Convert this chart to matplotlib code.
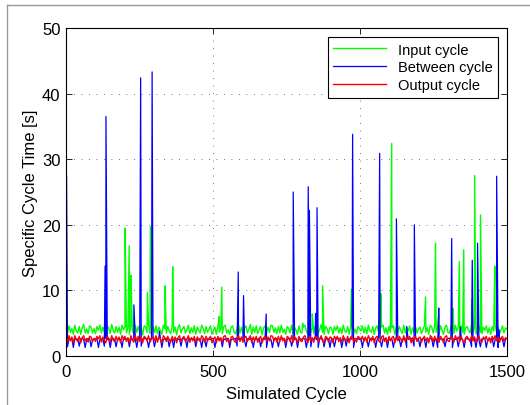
import numpy as np
import matplotlib.pyplot as plt
from matplotlib.lines import Line2D

plt.rcParams['font.family'] = ['Liberation Sans', 'DejaVu Sans']
plt.rcParams['path.simplify'] = False

# baseline samples (evenly spread over cycles 0..1500), read/estimated from the band
green_base = [
    4.4, 3.4, 4.6, 3.6, 4.2, 3.3, 4.7, 3.8, 3.5, 4.5, 3.3, 4.3, 4.8, 3.5, 4.1, 3.4, 4.6, 4.4, 3.5, 4.2,
    3.4, 4.5, 3.9, 4.7, 3.5, 4.4, 3.7, 3.3, 4.6, 4.2, 3.4, 4.8, 3.9, 3.5, 4.5, 3.6, 4.4, 3.3, 4.7, 4.0,
    4.5, 3.5, 4.3, 3.3, 4.6, 3.8, 3.4, 4.7, 3.6, 4.5, 3.5, 4.3, 3.2, 4.6, 4.4, 3.6, 4.8, 3.4, 4.0, 4.5,
    3.6, 4.6, 3.4, 4.4, 3.9, 3.3, 4.7, 4.2, 3.5, 4.5, 3.8, 3.4, 4.6, 3.6, 4.4, 3.2, 4.3, 4.8, 3.5, 4.1,
    4.5, 3.5, 4.0, 4.7, 3.4, 4.3, 3.6, 4.6, 3.3, 4.4, 3.9, 3.5, 4.7, 4.2, 3.4, 4.5, 3.6, 4.1, 4.6, 3.3,
    3.9, 4.4, 3.3, 4.6, 3.6, 4.3, 3.4, 4.5, 4.7, 3.5, 4.0, 3.3, 4.4, 4.6, 3.6, 3.4, 4.3, 4.7, 3.5, 4.4,
    3.4, 4.3, 4.6, 3.5, 4.1, 4.8, 3.3, 4.4, 3.6, 4.6, 3.4, 4.0, 4.5, 3.2, 4.3, 4.6, 3.5, 4.4, 3.6, 4.7,
    4.6, 3.6, 4.3, 3.4, 4.5, 3.5, 4.7, 3.6, 4.1, 3.3, 4.5, 4.2, 3.5, 4.7, 3.4, 4.4, 3.9, 3.3, 4.6, 3.6,
    3.5, 4.4, 4.7, 3.8, 3.3, 4.5, 3.6, 4.3, 3.4, 4.6, 4.4, 3.5, 4.0, 4.8, 3.6, 3.3, 4.5, 4.2, 3.4, 4.4,
    4.3, 3.3, 4.5, 3.9, 4.6, 3.5, 4.3, 3.4, 4.7, 3.8, 3.6, 4.5, 3.3, 4.4, 4.6, 3.5, 4.1, 3.4, 4.5, 4.2,
    3.8, 4.6, 3.5, 4.4, 3.4, 4.7, 3.9, 3.6, 4.5, 3.3, 4.3, 4.6, 3.6, 3.4, 4.4, 4.7, 3.5, 4.3, 3.3, 4.5,
    3.6, 4.3, 4.6, 3.3, 4.4, 3.6, 4.5, 3.9, 3.4, 4.7, 3.5, 4.4, 3.8, 4.6, 3.3, 4.3, 3.6, 4.5, 3.5, 4.1,
    4.4, 3.4, 4.0, 4.6, 3.6, 4.3, 3.3, 4.7, 4.4, 3.5, 4.5, 3.6, 4.3, 3.4, 4.6, 3.9, 3.3, 4.4, 4.7, 3.6,
    3.5, 4.5, 4.3, 3.4, 4.7, 3.8, 4.4, 3.5, 4.6, 3.6, 3.3, 4.3, 4.5, 3.9, 3.5, 4.8, 3.6, 4.4, 3.4, 4.3,
    4.5, 3.6, 3.4, 4.4, 3.9, 4.6, 3.5, 4.3, 3.3, 4.5, 3.8, 4.7, 3.6, 4.4, 3.4, 4.0, 4.6, 3.5, 4.3, 4.1,
]
blue_base = [
    2.7, 1.4, 2.5, 2.6, 2.6, 1.3, 2.7, 2.5, 2.6, 1.5, 2.6, 2.7, 2.5, 1.3, 2.6, 2.6, 2.7, 1.4, 2.5, 2.6,
    2.6, 2.7, 1.3, 2.5, 2.6, 2.6, 1.5, 2.7, 2.5, 2.6, 1.3, 2.6, 2.7, 2.5, 1.4, 2.6, 2.6, 2.5, 1.3, 2.7,
    2.5, 2.6, 2.6, 1.4, 2.7, 2.5, 2.6, 2.6, 1.3, 2.7, 2.5, 1.5, 2.6, 2.6, 2.7, 2.5, 1.3, 2.6, 2.6, 2.7,
    1.4, 2.5, 2.6, 2.6, 2.7, 1.3, 2.5, 2.6, 2.7, 2.6, 1.4, 2.5, 2.6, 1.3, 2.7, 2.6, 2.5, 2.6, 1.5, 2.7,
    2.6, 2.6, 1.3, 2.7, 2.5, 2.6, 2.6, 2.7, 1.4, 2.5, 2.6, 2.6, 1.3, 2.7, 2.5, 1.4, 2.6, 2.6, 2.5, 2.7,
    2.6, 1.3, 2.6, 2.5, 2.7, 2.6, 1.4, 2.6, 2.5, 2.6, 2.7, 1.3, 2.5, 2.6, 2.6, 2.7, 1.5, 2.5, 2.6, 2.6,
    2.7, 2.5, 1.4, 2.6, 2.6, 2.5, 2.7, 1.3, 2.6, 2.6, 2.5, 2.7, 1.4, 2.6, 2.5, 2.6, 1.3, 2.7, 2.6, 2.5,
    1.3, 2.6, 2.7, 2.6, 1.4, 2.5, 2.6, 2.7, 2.6, 1.3, 2.5, 2.7, 2.6, 1.5, 2.6, 2.5, 2.7, 1.3, 2.6, 2.6,
    2.5, 2.7, 2.6, 1.3, 2.6, 2.5, 1.4, 2.7, 2.6, 2.6, 2.5, 1.3, 2.7, 2.6, 2.6, 1.4, 2.5, 2.7, 2.6, 1.3,
    2.6, 2.6, 1.4, 2.5, 2.7, 2.6, 2.6, 1.3, 2.5, 2.7, 1.5, 2.6, 2.6, 2.5, 2.7, 1.3, 2.6, 2.6, 2.7, 2.5,
    2.6, 1.3, 2.7, 2.6, 2.5, 1.4, 2.6, 2.7, 2.5, 2.6, 1.3, 2.6, 2.7, 2.5, 1.4, 2.6, 2.6, 2.5, 1.3, 2.7,
    2.5, 2.6, 1.3, 2.6, 2.7, 2.5, 2.6, 1.4, 2.6, 2.5, 2.7, 1.3, 2.6, 2.6, 2.7, 2.5, 1.5, 2.7, 2.6, 2.6,
    1.4, 2.5, 2.7, 2.6, 1.3, 2.6, 2.5, 2.7, 2.6, 1.4, 2.5, 2.6, 1.3, 2.7, 2.6, 2.5, 2.6, 1.4, 2.5, 2.7,
    2.7, 2.6, 1.3, 2.6, 2.5, 2.7, 1.4, 2.6, 2.6, 2.5, 1.3, 2.7, 2.6, 2.6, 2.5, 1.4, 2.7, 2.6, 1.3, 2.6,
    2.5, 1.4, 2.6, 2.6, 2.7, 1.3, 2.5, 2.6, 2.6, 2.7, 1.4, 2.5, 2.6, 1.3, 2.6, 2.7, 2.5, 1.4, 2.6, 2.7,
]
red_base = [
    2.9, 2.1, 3.1, 2.3, 2.9, 2.0, 3.1, 2.5, 2.2, 3.0, 2.0, 2.8, 3.1, 2.3, 2.7, 2.1, 3.0, 2.9, 2.2, 2.7,
    2.2, 3.0, 2.6, 3.1, 2.1, 2.9, 2.4, 2.0, 3.0, 2.7, 2.1, 3.1, 2.4, 2.2, 3.0, 2.3, 2.9, 2.0, 3.1, 2.6,
    3.0, 2.2, 2.8, 2.0, 3.1, 2.4, 2.1, 3.1, 2.3, 3.0, 2.2, 2.9, 2.0, 3.0, 2.8, 2.3, 3.1, 2.1, 2.6, 2.9,
    2.3, 3.1, 2.1, 2.9, 2.6, 2.0, 3.1, 2.8, 2.2, 3.0, 2.5, 2.1, 3.0, 2.3, 2.9, 2.0, 2.8, 3.1, 2.2, 2.7,
    3.0, 2.2, 2.6, 3.1, 2.1, 2.8, 2.3, 3.0, 2.0, 2.9, 2.5, 2.2, 3.1, 2.8, 2.1, 3.0, 2.3, 2.7, 3.0, 2.0,
    2.6, 2.9, 2.0, 3.0, 2.3, 2.8, 2.1, 3.0, 3.1, 2.2, 2.6, 2.0, 2.9, 3.0, 2.3, 2.1, 2.8, 3.1, 2.2, 2.9,
    2.1, 2.8, 3.0, 2.2, 2.7, 3.1, 2.0, 2.9, 2.3, 3.0, 2.1, 2.6, 3.0, 2.0, 2.8, 3.0, 2.2, 2.9, 2.3, 3.1,
    3.0, 2.3, 2.8, 2.1, 3.0, 2.2, 3.1, 2.3, 2.7, 2.0, 3.0, 2.8, 2.2, 3.1, 2.1, 2.9, 2.6, 2.0, 3.0, 2.3,
    2.2, 2.9, 3.1, 2.5, 2.0, 3.0, 2.3, 2.8, 2.1, 3.0, 2.9, 2.2, 2.6, 3.1, 2.3, 2.0, 3.0, 2.8, 2.1, 2.9,
    2.8, 2.0, 3.0, 2.6, 3.0, 2.2, 2.8, 2.1, 3.1, 2.5, 2.3, 3.0, 2.0, 2.9, 3.0, 2.2, 2.7, 2.1, 3.0, 2.8,
    2.5, 3.0, 2.2, 2.9, 2.1, 3.1, 2.6, 2.3, 3.0, 2.0, 2.8, 3.0, 2.3, 2.1, 2.9, 3.1, 2.2, 2.8, 2.0, 3.0,
    2.3, 2.8, 3.0, 2.0, 2.9, 2.3, 3.0, 2.6, 2.1, 3.1, 2.2, 2.9, 2.5, 3.0, 2.0, 2.8, 2.3, 3.0, 2.2, 2.7,
    2.9, 2.1, 2.6, 3.0, 2.3, 2.8, 2.0, 3.1, 2.9, 2.2, 3.0, 2.3, 2.8, 2.1, 3.0, 2.6, 2.0, 2.9, 3.1, 2.3,
    2.2, 3.0, 2.8, 2.1, 3.1, 2.5, 2.9, 2.2, 3.0, 2.3, 2.0, 2.8, 3.0, 2.6, 2.2, 3.1, 2.3, 2.9, 2.1, 2.8,
    3.0, 2.3, 2.1, 2.9, 2.6, 3.0, 2.2, 2.8, 2.0, 3.0, 2.5, 3.1, 2.3, 2.9, 2.1, 2.7, 3.0, 2.2, 2.8, 2.6,
]

# single-cycle peaks: cycle number and cycle time [s]
green_peak_cycles = [201, 215, 221, 277, 287, 337, 363, 521, 530, 805, 838, 873, 971, 1064, 1071,
                     1108, 1223, 1257, 1268, 1317, 1338, 1353, 1380, 1390, 1410, 1457, 1459]
green_peak_times = [19.5, 16.8, 12.3, 9.7, 19.7, 10.7, 13.6, 6.0, 10.5, 5.0, 6.4, 10.7, 10.2, 5.3, 9.5,
                    32.4, 9.0, 17.2, 6.2, 7.2, 14.4, 16.2, 8.6, 27.5, 21.5, 9.7, 13.7]
blue_peak_cycles = [2, 133, 136, 231, 254, 293, 318, 586, 604, 681, 773, 824, 828, 849, 854, 975,
                    1067, 1124, 1159, 1185, 1268, 1312, 1342, 1382, 1400, 1465, 1472]
blue_peak_times = [27.5, 13.7, 36.5, 7.8, 42.4, 43.3, 3.8, 12.8, 9.2, 6.4, 25.0, 25.8, 22.2, 6.5, 22.6, 33.8,
                   30.9, 20.9, 4.5, 20.0, 7.3, 17.9, 4.4, 14.6, 17.2, 27.4, 4.0]
red_peak_cycles = []
red_peak_times = []


def series(base, peak_cycles, peak_times):
    x = np.concatenate([np.linspace(0, 1500, len(base)), np.array(peak_cycles, dtype=float)])
    y = np.concatenate([np.array(base, dtype=float), np.array(peak_times, dtype=float)])
    order = np.argsort(x, kind='stable')
    return x[order], y[order]


fig = plt.figure(figsize=(5.3, 4.06), dpi=100)
ax = fig.add_axes([0.1245, 0.1207, 0.832, 0.808])

gx, gy = series(green_base, green_peak_cycles, green_peak_times)
bx, by = series(blue_base, blue_peak_cycles, blue_peak_times)
rx, ry = series(red_base, red_peak_cycles, red_peak_times)
ax.plot(gx, gy, color='#00ff00', lw=1.0, label='Input cycle')
ax.plot(bx, by, color='#0000ff', lw=0.9, label='Between cycle')
ax.plot(rx, ry, color='#ff0000', lw=1.0, label='Output cycle')

ax.set_xlim(0, 1500)
ax.set_ylim(0, 50)
ax.set_xticks([0, 500, 1000, 1500])
ax.set_yticks([0, 10, 20, 30, 40, 50])
ax.tick_params(direction='in', top=True, right=True, length=4, width=0.6, labelsize=12)
ax.tick_params(axis='x', pad=6)
ax.tick_params(axis='y', pad=4)
ax.grid(True, linestyle=(0, (1, 8)), color='0.3', lw=0.6)
for s in ax.spines.values():
    s.set_linewidth(0.8)

ax.set_xlabel('Simulated Cycle', fontsize=12, labelpad=5)
ax.set_ylabel('Specific Cycle Time [s]', fontsize=12, labelpad=3)

leg = ax.legend(loc='upper right', fontsize=10.5, fancybox=False, edgecolor='black', framealpha=1,
                handlelength=3.6, labelspacing=0.25, borderaxespad=0.6)
leg.get_frame().set_linewidth(0.8)

# grey outer frame of the exported figure
fig.add_artist(Line2D([7 / 530, 7 / 530], [0, 1 - 6 / 406], transform=fig.transFigure, color='0.6', lw=1))
fig.add_artist(Line2D([7 / 530, 1], [1 - 6 / 406, 1 - 6 / 406], transform=fig.transFigure, color='0.6', lw=1))

fig.savefig('out.png', dpi=100)
